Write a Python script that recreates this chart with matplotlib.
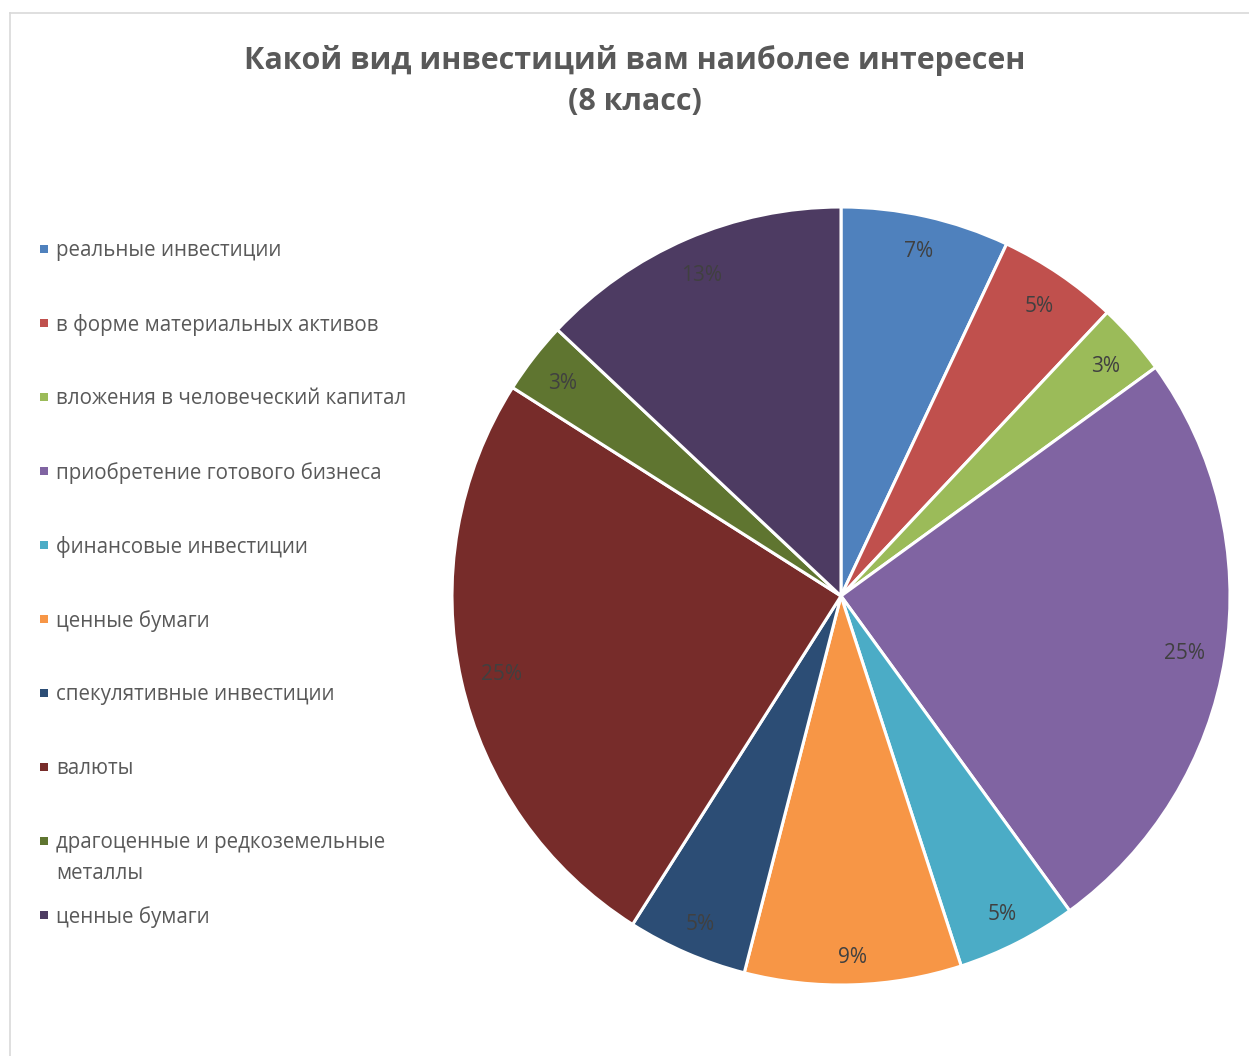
import numpy as np
import matplotlib
matplotlib.use("Agg")
import matplotlib.pyplot as plt
from matplotlib.patches import Rectangle
from matplotlib.lines import Line2D

plt.rcParams['font.family'] = ['Open Sans', 'DejaVu Sans']

title = "Какой вид инвестиций вам наиболее интересен\n(8 класс)"
categories = [
    "реальные инвестиции",
    "в форме материальных активов",
    "вложения в человеческий капитал",
    "приобретение готового бизнеса",
    "финансовые инвестиции",
    "ценные бумаги",
    "спекулятивные инвестиции",
    "валюты",
    "драгоценные и редкоземельные\nметаллы",
    "ценные бумаги",
]
shares = [7, 5, 3, 25, 5, 9, 5, 25, 3, 13]
colors = ["#4F81BD", "#C0504D", "#9BBB59", "#8064A2", "#4BACC6",
          "#F79646", "#2C4D75", "#772C2A", "#5F7530", "#4D3B62"]

W, H = 1249, 1056
fig = plt.figure(figsize=(W / 100, H / 100), dpi=100)

# chart frame (only top and left edges are in view)
fig.add_artist(Line2D([9.5 / W, 9.5 / W], [0, 1 - 12.5 / H], transform=fig.transFigure,
                      color="#D9D9D9", lw=1.2))
fig.add_artist(Line2D([9.5 / W, 1], [1 - 12.5 / H, 1 - 12.5 / H], transform=fig.transFigure,
                      color="#D9D9D9", lw=1.2))

fig.text(635 / W, 1 - 81 / H, title, ha="center", va="center", fontsize=21.9,
         fontweight="bold", color="#595959", linespacing=1.52)

# pie
cx, cy, r = 841, 596, 389
ax = fig.add_axes([(cx - r) / W, (H - cy - r) / H, 2 * r / W, 2 * r / H])
wedges, texts, autotexts = ax.pie(
    shares, colors=colors, startangle=90, counterclock=False,
    autopct="%1.0f%%", pctdistance=0.9,
    wedgeprops=dict(edgecolor="white", linewidth=2.2),
    textprops=dict(color="#404040", fontsize=15))
ax.set_xlim(-1, 1)
ax.set_ylim(-1, 1)
ax.axis("off")

# push each percentage label against the outer edge of its wedge
fig.canvas.draw()
renderer = fig.canvas.get_renderer()
margin = 19
drop = 3
for w, t in zip(wedges, autotexts):
    th = np.deg2rad((w.theta1 + w.theta2) / 2)
    bb = t.get_window_extent(renderer)
    ext = abs(np.cos(th)) * bb.width / 2 + abs(np.sin(th)) * bb.height / 2
    d = (r - margin - ext) / r
    t.set_position((d * np.cos(th), d * np.sin(th) - drop / r))

# legend on the left
y0 = 251
step = 74
for i, (lab, col) in enumerate(zip(categories, colors)):
    y = y0 + i * step
    fig.add_artist(Rectangle((40 / W, 1 - (y + 2) / H), 8 / W, 8 / H,
                             transform=fig.transFigure, color=col, lw=0))
    fig.text(56 / W, 1 - (y - 11) / H, lab, ha="left", va="top", fontsize=14.8,
             color="#595959", linespacing=1.6)

fig.savefig("out.png", dpi=100)
